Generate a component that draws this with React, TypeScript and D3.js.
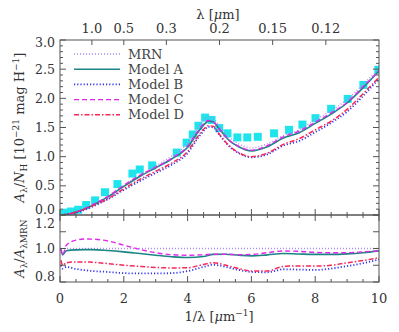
import React from 'react';
import * as d3 from 'd3';

// 1/lambda grid for the extinction curves (top panel)
const waveTop = [0.03, 0.2, 0.5, 1, 1.5, 2, 2.5, 3, 3.5, 4, 4.3, 4.5, 4.65, 4.8, 5.0, 5.3, 5.6, 6, 6.5, 7, 7.5, 8, 8.5, 9, 9.5, 10];
const extMRN = [0, 0.01, 0.05, 0.16, 0.31, 0.5, 0.68, 0.84, 1.01, 1.23, 1.48, 1.62, 1.68, 1.66, 1.52, 1.33, 1.22, 1.15, 1.22, 1.36, 1.46, 1.63, 1.79, 1.98, 2.24, 2.5];
const extA = [0, 0.01, 0.05, 0.16, 0.31, 0.49, 0.66, 0.81, 0.96, 1.16, 1.4, 1.54, 1.61, 1.6, 1.47, 1.28, 1.17, 1.1, 1.17, 1.32, 1.41, 1.57, 1.73, 1.92, 2.18, 2.47];
const extB = [0, 0.01, 0.04, 0.14, 0.27, 0.43, 0.58, 0.72, 0.86, 1.06, 1.3, 1.44, 1.51, 1.5, 1.37, 1.18, 1.06, 0.99, 1.04, 1.19, 1.27, 1.42, 1.58, 1.77, 2.04, 2.34];
const extC = [0, 0.01, 0.05, 0.17, 0.32, 0.51, 0.68, 0.82, 0.97, 1.18, 1.42, 1.56, 1.62, 1.6, 1.47, 1.28, 1.18, 1.11, 1.19, 1.34, 1.44, 1.59, 1.75, 1.93, 2.2, 2.47];
const extD = [0, 0.01, 0.05, 0.15, 0.28, 0.45, 0.61, 0.75, 0.89, 1.09, 1.33, 1.47, 1.53, 1.52, 1.38, 1.19, 1.07, 1.0, 1.06, 1.21, 1.31, 1.46, 1.61, 1.81, 2.08, 2.36];

// observed extinction (squares)
const obsWave = [0.1, 0.21, 0.35, 0.57, 0.82, 1.1, 1.41, 1.8, 2.27, 2.5, 2.89, 3.66, 3.97, 4.16, 4.34, 4.55, 4.75, 4.99, 5.25, 5.56, 5.87, 6.2, 6.71, 7.18, 7.6, 8.01, 8.5, 9.02, 9.51, 9.98];
const obsExt = [0.02, 0.04, 0.06, 0.09, 0.17, 0.25, 0.39, 0.53, 0.71, 0.78, 0.85, 1.07, 1.24, 1.38, 1.53, 1.67, 1.63, 1.49, 1.4, 1.33, 1.33, 1.34, 1.4, 1.46, 1.55, 1.66, 1.82, 1.99, 2.23, 2.49];

// ratio to MRN (bottom panel)
const waveRatio = [0.03, 0.08, 0.2, 0.5, 0.8, 1, 1.5, 2, 2.5, 3, 3.5, 4, 4.5, 4.8, 5.2, 5.6, 6, 6.5, 7, 7.5, 8, 8.5, 9, 9.5, 10];
const ratioMRN = [1, 1, 1, 1, 1, 1, 1, 1, 1, 1, 1, 1, 1, 1, 1, 1, 1, 1, 1, 1, 1, 1, 1, 1, 1];
const ratioA = [1.0, 0.962, 0.987, 0.992, 0.993, 0.993, 0.988, 0.98, 0.97, 0.96, 0.951, 0.946, 0.952, 0.965, 0.966, 0.96, 0.956, 0.962, 0.97, 0.967, 0.965, 0.965, 0.968, 0.975, 0.986];
const ratioB = [0.9, 0.88, 0.89, 0.878, 0.87, 0.866, 0.86, 0.853, 0.851, 0.851, 0.853, 0.865, 0.89, 0.903, 0.89, 0.872, 0.86, 0.858, 0.876, 0.874, 0.872, 0.88, 0.895, 0.912, 0.935];
const ratioC = [1.0, 0.96, 1.02, 1.05, 1.057, 1.056, 1.045, 1.02, 0.995, 0.975, 0.963, 0.96, 0.962, 0.966, 0.966, 0.963, 0.964, 0.975, 0.985, 0.983, 0.977, 0.975, 0.975, 0.98, 0.986];
const ratioD = [0.93, 0.9, 0.915, 0.92, 0.92, 0.918, 0.91, 0.9, 0.893, 0.887, 0.884, 0.885, 0.905, 0.915, 0.9, 0.88, 0.866, 0.866, 0.893, 0.896, 0.895, 0.9, 0.915, 0.928, 0.945];

const seriesNames = ['MRN', 'Model A', 'Model B', 'Model C', 'Model D'];
const lamTicks = [1.0, 0.5, 0.3, 0.2, 0.15, 0.12];
const lamLabels = ['1.0', '0.5', '0.3', '0.2', '0.15', '0.12'];

const styles = [
  { color: '#a888f8', width: 1.3, dash: '1,2' },
  { color: '#1b8585', width: 1.6, dash: null },
  { color: '#3434f4', width: 1.8, dash: '1.2,2' },
  { color: '#e028e8', width: 1.4, dash: '5,3' },
  { color: '#f82858', width: 1.5, dash: '5,2,1.5,2' },
];

const FONT = '"DejaVu Serif", serif';
const INK = '#333';
const AXIS = '#555';

export default function App() {
  const left = 60, right = 379, top = 40, mid = 215, bottom = 282;
  const x = d3.scaleLinear().domain([0, 10]).range([left, right]);
  const yTop = d3.scaleLinear().domain([0, 3]).range([mid, top]);
  const yBot = d3.scaleLinear().domain([0.8, 1.2]).range([bottom, mid]);

  const topSeries = [extMRN, extA, extB, extC, extD];
  const botSeries = [ratioMRN, ratioA, ratioB, ratioC, ratioD];

  const lineTop = (vals: number[]) =>
    d3.line<number>().x((_, i) => x(waveTop[i])).y(d => yTop(d)).curve(d3.curveMonotoneX)(vals) || '';
  const lineBot = (vals: number[]) =>
    d3.line<number>().x((_, i) => x(waveRatio[i])).y(d => yBot(d)).curve(d3.curveMonotoneX)(vals) || '';

  const xMajor = d3.range(0, 10.01, 2);
  const xMinor = d3.range(0, 10.01, 0.5).filter(v => Math.abs(v / 2 - Math.round(v / 2)) > 1e-6);
  const yTopMajor = d3.range(0, 3.01, 0.5);
  const yTopMinor = d3.range(0, 3.001, 0.1).filter(v => Math.abs(v * 2 - Math.round(v * 2)) > 1e-6);
  const yBotMajor = [0.8, 1.0, 1.2];
  const yBotMinor = [0.9, 1.1];

  // label nudges for labels that sit on the panel edges
  const topLabelNudge = (v: number) => (v === 3 ? 3 : v === 0 ? -5 : 0);
  const botLabelNudge = (v: number) => (v === 1.2 ? 9 : v === 0.8 ? -5 : 0);

  const ticksLR = (ys: number[], sc: (v: number) => number, len: number, key: string) =>
    ys.map(v => (
      <g key={key + v}>
        <line x1={left} x2={left + len} y1={sc(v)} y2={sc(v)} stroke={AXIS} />
        <line x1={right} x2={right - len} y1={sc(v)} y2={sc(v)} stroke={AXIS} />
      </g>
    ));
  const ticksX = (xs: number[], yEdge: number, dir: number, len: number, key: string) =>
    xs.map(v => <line key={key + v} x1={x(v)} x2={x(v)} y1={yEdge} y2={yEdge + dir * len} stroke={AXIS} />);

  return (
    <svg width={399} height={332} style={{ position: 'absolute', left: 0, top: 0, background: '#fff' }}
      fontFamily={FONT} fontSize={13} fill={INK}>
      <defs>
        <clipPath id="clipTop"><rect x={left} y={top} width={right - left} height={mid - top} /></clipPath>
        <clipPath id="clipBot"><rect x={left} y={mid} width={right - left} height={bottom - mid} /></clipPath>
      </defs>

      {/* observed squares */}
      <g clipPath="url(#clipTop)">
        {obsWave.map((w, i) => (
          <rect key={'o' + i} x={x(w) - 4} y={yTop(obsExt[i]) - 4} width={8} height={8} fill="#1ee4ec" />
        ))}
        {topSeries.map((s, i) => (
          <path key={'t' + i} d={lineTop(s)} fill="none" stroke={styles[i].color}
            strokeWidth={styles[i].width} strokeDasharray={styles[i].dash || undefined} />
        ))}
      </g>
      <g clipPath="url(#clipBot)">
        {botSeries.map((s, i) => (
          <path key={'b' + i} d={lineBot(s)} fill="none" stroke={styles[i].color}
            strokeWidth={styles[i].width} strokeDasharray={styles[i].dash || undefined} />
        ))}
      </g>

      {/* frames */}
      <rect x={left} y={top} width={right - left} height={mid - top} fill="none" stroke={AXIS} />
      <rect x={left} y={mid} width={right - left} height={bottom - mid} fill="none" stroke={AXIS} />

      {/* ticks */}
      {ticksLR(yTopMajor, yTop, 6, 'ytM')}
      {ticksLR(yTopMinor, yTop, 3, 'ytm')}
      {ticksLR(yBotMajor, yBot, 6, 'ybM')}
      {ticksLR(yBotMinor, yBot, 6, 'ybm')}
      {ticksX(xMajor, mid, -1, 6, 'xa')}
      {ticksX(xMinor, mid, -1, 3, 'xb')}
      {ticksX(xMajor, mid, 1, 6, 'xc')}
      {ticksX(xMinor, mid, 1, 3, 'xd')}
      {ticksX(xMajor, bottom, -1, 6, 'xe')}
      {ticksX(xMinor, bottom, -1, 3, 'xf')}
      {lamTicks.map(l => (
        <line key={'lt' + l} x1={x(1 / l)} x2={x(1 / l)} y1={top} y2={top + 5} stroke={AXIS} />
      ))}

      {/* tick labels */}
      {yTopMajor.map(v => (
        <text key={'ytl' + v} x={left - 5} y={yTop(v) + topLabelNudge(v)} dy="0.35em" textAnchor="end" fontSize={12.5}>{v.toFixed(1)}</text>
      ))}
      {yBotMajor.map(v => (
        <text key={'ybl' + v} x={left - 5} y={yBot(v) + botLabelNudge(v)} dy="0.35em" textAnchor="end" fontSize={12.5}>{v.toFixed(1)}</text>
      ))}
      {xMajor.map(v => (
        <text key={'xl' + v} x={x(v)} y={303} textAnchor="middle">{v}</text>
      ))}
      {lamTicks.map((l, i) => (
        <text key={'ll' + l} x={x(1 / l)} y={33} textAnchor="middle">{lamLabels[i]}</text>
      ))}

      {/* axis titles */}
      <text x={218} y={19} textAnchor="middle">λ [<tspan fontStyle="italic">μ</tspan>m]</text>
      <text x={219} y={321} textAnchor="middle">
        1/λ [<tspan fontStyle="italic">μ</tspan>m<tspan dy={-5} fontSize={9}>−1</tspan><tspan dy={5}>]</tspan>
      </text>
      <text transform={`translate(24,${(top + mid) / 2}) rotate(-90)`} textAnchor="middle">
        <tspan fontStyle="italic">A</tspan><tspan dy={3} fontSize={9}>λ</tspan>
        <tspan dy={-3}>/</tspan><tspan fontStyle="italic">N</tspan><tspan dy={3} fontSize={9}>H</tspan>
        <tspan dy={-3}> [10</tspan><tspan dy={-5} fontSize={9}>−21</tspan>
        <tspan dy={5}> mag H</tspan><tspan dy={-5} fontSize={9}>−1</tspan><tspan dy={5}>]</tspan>
      </text>
      <text transform={`translate(24,${(mid + bottom) / 2}) rotate(-90)`} textAnchor="middle">
        <tspan fontStyle="italic">A</tspan><tspan dy={3} fontSize={9}>λ</tspan>
        <tspan dy={-3}>/</tspan><tspan fontStyle="italic">A</tspan><tspan dy={3} fontSize={9}>λMRN</tspan>
      </text>

      {/* legend */}
      {seriesNames.map((n, i) => {
        const yy = 54 + i * 15.2;
        return (
          <g key={'lg' + i}>
            <line x1={74} x2={120} y1={yy} y2={yy} stroke={styles[i].color}
              strokeWidth={styles[i].width} strokeDasharray={styles[i].dash || undefined} />
            <text x={128} y={yy} dy="0.35em" fill="#444">{n}</text>
          </g>
        );
      })}
    </svg>
  );
}
